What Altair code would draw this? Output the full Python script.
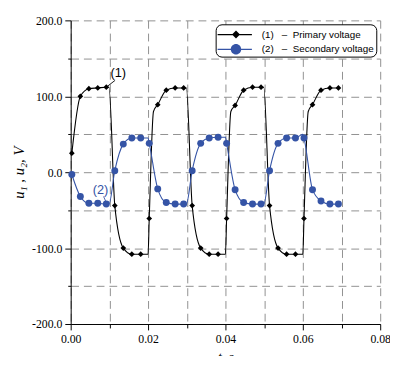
import altair as alt
import pandas as pd

# ---- data ----
t_mark = [0.0003, 0.0025, 0.0047, 0.0070, 0.0092, 0.0114, 0.0136, 0.0158, 0.0181,
          0.0203, 0.0225, 0.0247, 0.0270, 0.0292, 0.0314, 0.0336, 0.0358, 0.0381,
          0.0403, 0.0425, 0.0447, 0.0470, 0.0492, 0.0514, 0.0536, 0.0558, 0.0581,
          0.0603, 0.0625, 0.0647, 0.0670, 0.0692]
u1_mark = [25, 100, 110, 111, 112, -44, -100, -108, -108,
           -61, 89, 108, 111, 111, -44, -100, -108, -108,
           -61, 88, 108, 112, 112, -44, -100, -108, -108,
           -61, 89, 108, 111, 111]
u2_mark = [-3, -32, -41, -41, -42, 2, 37, 45, 45,
           38, -22, -40, -42, -42, 2, 38, 45, 46,
           38, -23, -40, -42, -42, 2, 38, 45, 45,
           45, -23, -38, -42, -42]

# extra points on the drawn curves (switching corners)
t_u1_extra = [0.0099, 0.0299, 0.0499, 0.0200, 0.0400, 0.0600, 0.0214, 0.0414, 0.0614]
u1_extra = [112, 111, 112, -108, -108, -108, 80, 80, 80]
t_u2_extra = [0.0099, 0.0299, 0.0499, 0.0200, 0.0400, 0.0600]
u2_extra = [-42, -42, -42, 45, 46, 50]

NB = "\u00a0"
series_names = [f"(1){NB*3}\u2013{NB*2}Primary voltage{NB*3}",
                f"(2){NB*3}\u2013{NB*2}Secondary voltage{NB*3}"]
series_colors = ["#000000", "#3554a6"]

x_ticks = [0.0, 0.01, 0.02, 0.03, 0.04, 0.05, 0.06, 0.07, 0.08]
y_ticks = [-200, -150, -100, -50, 0, 50, 100, 150, 200]

ann_text = ["(1)", "(2)"]
ann_t = [0.0123, 0.0077]
ann_u = [130, -23]
ann_color = ["#000000", "#3554a6"]
lead_t1 = [0.0092, 0.0085]
lead_u1 = [112, -32]
lead_t2 = [0.01148, 0.0093]
lead_u2 = [121, -41]

# ---- frames ----
marks = pd.concat([
    pd.DataFrame({"t": t_mark, "u": u1_mark, "series": series_names[0]}),
    pd.DataFrame({"t": t_mark, "u": u2_mark, "series": series_names[1]}),
])
line1 = pd.DataFrame({"t": t_mark + t_u1_extra, "u": u1_mark + u1_extra}).sort_values("t")
line2 = pd.DataFrame({"t": t_mark + t_u2_extra, "u": u2_mark + u2_extra}).sort_values("t")
ann = pd.DataFrame({"t": ann_t, "u": ann_u, "txt": ann_text, "c": ann_color})
lead = pd.DataFrame({"t": lead_t1, "u": lead_u1, "t2": lead_t2, "u2": lead_u2, "c": ann_color})

serif = "Liberation Serif"
sans = "Liberation Sans"

X = alt.X("t:Q", scale=alt.Scale(domain=[0, 0.08], nice=False, zero=False),
          axis=alt.Axis(values=x_ticks, title="t, s",
                        labelExpr="round(datum.value*100) % 2 == 0 ? format(datum.value, '.2f') : ''",
                        labelFont=serif, labelFontSize=12, labelColor="black", labelPadding=4,
                        labelOverlap=False, labelFlush=False,
                        titleFont=serif, titleFontSize=14, titleFontStyle="italic",
                        titleFontWeight="normal", titleColor="black", titlePadding=6,
                        tickColor="black", tickWidth=1,
                        tickSize={"condition": {"test": "round(datum.value*100) % 2 == 0", "value": 6}, "value": 4},
                        domainColor="black", domainWidth=1,
                        grid=True, gridColor="#8f8f8f", gridDash=[8, 5], gridWidth=1))
Y = alt.Y("u:Q", scale=alt.Scale(domain=[-200, 200], nice=False),
          axis=alt.Axis(values=y_ticks, title="u\u2081 , u\u2082, V",
                        labelExpr="datum.value % 100 == 0 ? (datum.value < 0 ? '-' : '') + format(abs(datum.value), '.1f') : ''",
                        labelFont=serif, labelFontSize=12, labelColor="black", labelPadding=3,
                        labelOverlap=False, labelFlush=False,
                        titleFont=serif, titleFontSize=15, titleFontStyle="italic",
                        titleFontWeight="normal", titleColor="black", titlePadding=5,
                        tickColor="black", tickWidth=1,
                        tickSize={"condition": {"test": "datum.value % 100 == 0", "value": 6}, "value": 3},
                        domainColor="black", domainWidth=1,
                        grid=True, gridColor="#8f8f8f", gridDash=[8, 5], gridWidth=1))

l1 = alt.Chart(line1).mark_line(interpolate="monotone", strokeWidth=1.1,
                                color=series_colors[0]).encode(x=X, y=Y)
l2 = alt.Chart(line2).mark_line(interpolate="monotone", strokeWidth=1.1,
                                color=series_colors[1]).encode(x=X, y=Y)
p1 = alt.Chart(marks).transform_filter(alt.datum.series == series_names[0]).mark_point(
    shape="diamond", filled=True, size=34, opacity=1, color=series_colors[0]).encode(x=X, y=Y)
p2 = alt.Chart(marks).transform_filter(alt.datum.series == series_names[1]).mark_point(
    shape="circle", filled=True, size=50, opacity=1, color=series_colors[1]).encode(x=X, y=Y)

# legend symbols: a line segment with the series marker on it (units of sqrt(size)/2)
sym_diamond = "M-2.06,-0.075H2.06V0.075H-2.06Z M0.15,-0.48L0.63,0L0.15,0.48L-0.33,0Z"
sym_circle = "M-2.06,-0.075H2.06V0.075H-2.06Z M0.78,0A0.63,0.63 0 1,1 -0.48,0A0.63,0.63 0 1,1 0.78,0Z"

leg = alt.Legend(title=None, orient="top-right", offset=4, symbolSize=289,
                 symbolStrokeWidth=0, symbolOffset=9, labelOffset=19,
                 labelFont=sans, labelFontSize=10, labelColor="black", labelLimit=400,
                 rowPadding=1, symbolOpacity=1)
legend_layer = alt.Chart(marks).mark_point(filled=True, opacity=0, size=1).encode(
    x=X, y=Y,
    color=alt.Color("series:N", scale=alt.Scale(domain=series_names, range=series_colors), legend=leg),
    shape=alt.Shape("series:N", scale=alt.Scale(domain=series_names, range=[sym_diamond, sym_circle]), legend=leg),
)

rules = alt.Chart(lead).mark_rule(strokeWidth=0.9).encode(
    x=X, y=Y, x2="t2:Q", y2="u2:Q", color=alt.Color("c:N", scale=None))
texts = alt.Chart(ann).mark_text(font=sans, fontSize=13).encode(
    x=X, y=Y, text="txt:N", color=alt.Color("c:N", scale=None))

chart = alt.layer(l1, l2, p1, p2, legend_layer, rules, texts).properties(
    width=316, height=310,
    autosize=alt.AutoSizeParams(type="none"),
    padding={"left": 64, "top": 9, "right": 10, "bottom": 29},
).configure_view(stroke=None).configure_legend(
    strokeColor="black", strokeWidth=1, cornerRadius=6, fillColor="white", padding=2)

chart.save("out.html", embed_options={"renderer": "svg", "actions": False})
